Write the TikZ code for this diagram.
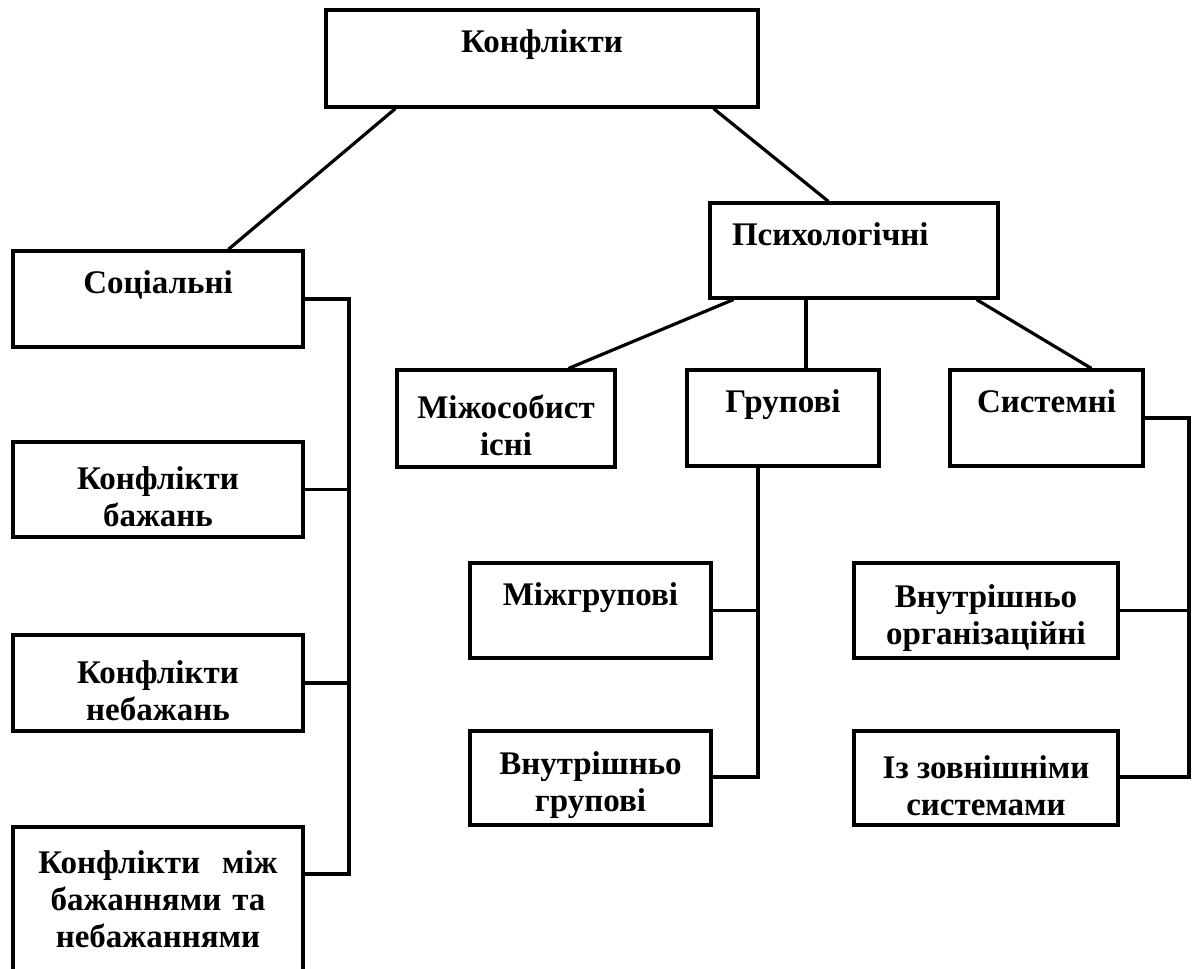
\documentclass[tikz,border=0pt]{standalone}
\usepackage{fontspec}
\setmainfont{Liberation Serif}
\usepackage{tikz}
\newcommand{\topgap}{\rule{0pt}{19pt}}

\begin{document}
\begin{tikzpicture}[x=0.5pt,y=-0.5pt,
		box/.style={draw,line width=1.6pt,font=\bfseries\fontsize{16.5pt}{18.5pt}\selectfont,align=center,inner sep=0pt},
		onebox/.style={box,text height=11.5pt,text depth=17pt},
		link/.style={line width=1.6pt}]
		\useasboundingbox (0,0) rectangle (1196,969);
		% top level
		\node[onebox,minimum width=216pt,minimum height=48.5pt] (conf) at (542,58.5) {Конфлікти};
		\node[onebox,minimum width=144pt,minimum height=47.5pt,text width=122pt,align=left] (psych) at (854,250.5) {Психологічні};
		% social branch
		\node[onebox,minimum width=145pt,minimum height=48pt] (soc) at (158,299) {Соціальні};
		\node[box,minimum width=145pt,minimum height=47.5pt] (bazh) at (158,489.5) {\topgap Конфлікти\\бажань};
		\node[box,minimum width=145pt,minimum height=48pt] (nebazh) at (158,683) {\topgap Конфлікти\\небажань};
		\node[box,minimum width=145pt,minimum height=72pt,text width=125pt] (mizh) at (158,899) {Конфлікти~~між\\бажаннями та\\небажаннями};
		% psychological branch
		\node[box,minimum width=109pt,minimum height=48.5pt] (interp) at (506,418.5) {\topgap Міжособист\\існі};
		\node[onebox,minimum width=96pt,minimum height=48pt] (group) at (783,418) {Групові};
		\node[onebox,minimum width=96.5pt,minimum height=48pt] (system) at (1046.5,418) {Системні};
		\node[onebox,minimum width=120.5pt,minimum height=47.5pt] (intergr) at (590.5,610.5) {Міжгрупові};
		\node[box,minimum width=120.5pt,minimum height=47pt] (intragr) at (590.5,778) {\topgap Внутрішньо\\групові};
		\node[box,minimum width=132pt,minimum height=47.5pt] (intraorg) at (986,610.5) {\topgap Внутрішньо\\організаційні};
		\node[box,minimum width=132pt,minimum height=47pt] (extern) at (986,778) {\topgap Із зовнішніми\\системами};
		% bus points
		\coordinate (lbus top) at (349,299);
		\coordinate (lbus bot) at (349,874);
		\coordinate (gbus bot) at (758,777);
		\coordinate (sbus top) at (1189,418);
		\coordinate (sbus bot) at (1189,777);
		% links
		\draw[link] ([xshift=35.5pt]conf.south west) -- ([xshift=108.5pt]soc.north west);
		\draw[link] ([xshift=-23pt]conf.south east) -- ([xshift=60pt]psych.north west);
		\draw[link] (soc.east) -- (lbus top) -- (lbus bot) -- (mizh.east |- lbus bot);
		\draw[link] (bazh.east) -- (bazh.east -| lbus top);
		\draw[link] (nebazh.east) -- (nebazh.east -| lbus top);
		\draw[link] ([xshift=12.5pt]psych.south west) -- ([xshift=-24pt]interp.north east);
		\draw[link] ([xshift=11.5pt]group.north) -- ([xshift=11.5pt]group.north |- psych.south);
		\draw[link] ([xshift=-11.5pt]psych.south east) -- ([xshift=71.5pt]system.north west);
		\draw[link] (group.south -| gbus bot) -- (gbus bot) -- (intragr.east |- gbus bot);
		\draw[link] (intergr.east) -- (intergr.east -| gbus bot);
		\draw[link] (system.east |- sbus top) -- (sbus top) -- (sbus bot) -- (extern.east |- sbus bot);
		\draw[link] (intraorg.east) -- (intraorg.east -| sbus bot);
	\end{tikzpicture}
\end{document}
